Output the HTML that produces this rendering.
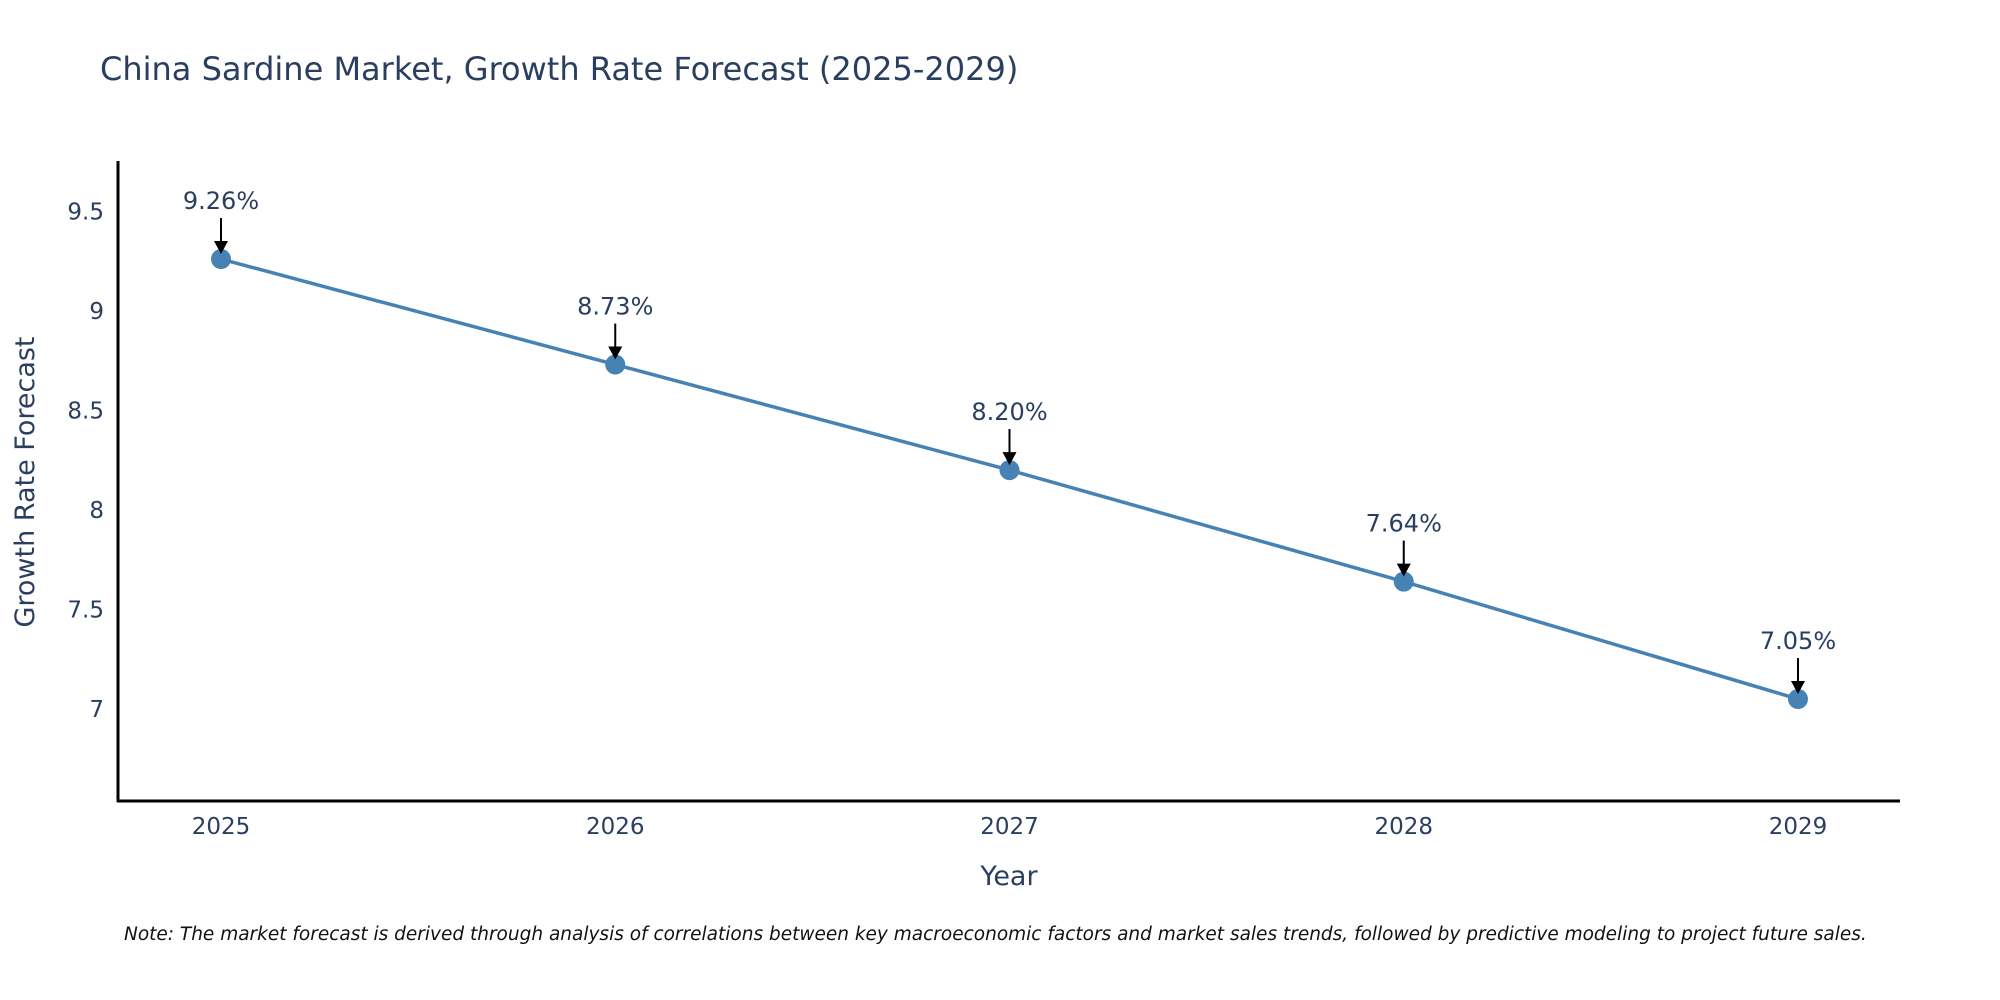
<!DOCTYPE html>
<html><head><meta charset="utf-8"><style>
body{margin:0;background:#fff;}
svg{display:block;font-family:"DejaVu Sans","Liberation Sans",sans-serif;}
</style></head><body>
<svg id="chart" width="2000" height="1000" viewBox="0 0 2000 1000">
<text x="100" y="80" font-size="32" fill="#2a3f5f">China Sardine Market, Growth Rate Forecast (2025-2029)</text>
<g id="yticks"></g>
<g id="xticks"></g>
<line x1="118" y1="161" x2="118" y2="802" stroke="#000" stroke-width="3"/>
<line x1="117" y1="801" x2="1900" y2="801" stroke="#000" stroke-width="3"/>
<g id="series"></g>
<text transform="translate(34,482) rotate(-90)" text-anchor="middle" font-size="27" fill="#2a3f5f">Growth Rate Forecast</text>
<text x="1009" y="885" text-anchor="middle" font-size="27" fill="#2a3f5f">Year</text>
<text x="124" y="940" font-size="18.5" font-style="italic" fill="#111">Note: The market forecast is derived through analysis of correlations between key macroeconomic factors and market sales trends, followed by predictive modeling to project future sales.</text>
</svg>
<script>
const years = [2025, 2026, 2027, 2028, 2029];
const values = [9.26, 8.73, 8.20, 7.64, 7.05];
const labels = ["9.26%", "8.73%", "8.20%", "7.64%", "7.05%"];
const yTicks = [7, 7.5, 8, 8.5, 9, 9.5];
const yTickLabels = ["7", "7.5", "8", "8.5", "9", "9.5"];

const NS = "http://www.w3.org/2000/svg";
const X = v => 221 + (v - 2025) * 394.25;
const Y = v => 709 - (v - 7) * 199.1;
function mk(tag, attrs, parent) {
  const e = document.createElementNS(NS, tag);
  for (const k in attrs) e.setAttribute(k, attrs[k]);
  parent.appendChild(e);
  return e;
}
const yg = document.getElementById('yticks');
yTicks.forEach((t, i) => {
  const e = mk('text', {x: 104, y: Y(t) + 8, 'text-anchor': 'end', 'font-size': 23, fill: '#2a3f5f'}, yg);
  
  
  e.textContent = yTickLabels[i];
});
const xg = document.getElementById('xticks');
years.forEach(yr => {
  const e = mk('text', {x: X(yr), y: 834, 'text-anchor': 'middle', 'font-size': 23, fill: '#2a3f5f'}, xg);
  
  
  e.textContent = String(yr);
});
const sg = document.getElementById('series');
const line = mk('polyline', {points: years.map((yr, i) => X(yr) + ',' + Y(values[i])).join(' '), fill: 'none', stroke: '#4682b4', 'stroke-width': 3.5}, sg);


years.forEach((yr, i) => {
  const cx = X(yr), cy = Y(values[i]);
  const c = mk('circle', {cx: cx, cy: cy, r: 10, fill: '#4682b4'}, sg);
  
  
  const a = mk('line', {x1: cx, y1: cy - 41, x2: cx, y2: cy - 16, stroke: '#000', 'stroke-width': 2}, sg);
  
  
  const h = mk('polygon', {points: (cx - 7) + ',' + (cy - 18) + ' ' + (cx + 7) + ',' + (cy - 18) + ' ' + cx + ',' + (cy - 5), fill: '#000'}, sg);
  
  
  const t = mk('text', {x: cx, y: cy - 50, 'text-anchor': 'middle', 'font-size': 24, fill: '#2a3f5f'}, sg);
  
  
  t.textContent = labels[i];
});
</script>
</body></html>
